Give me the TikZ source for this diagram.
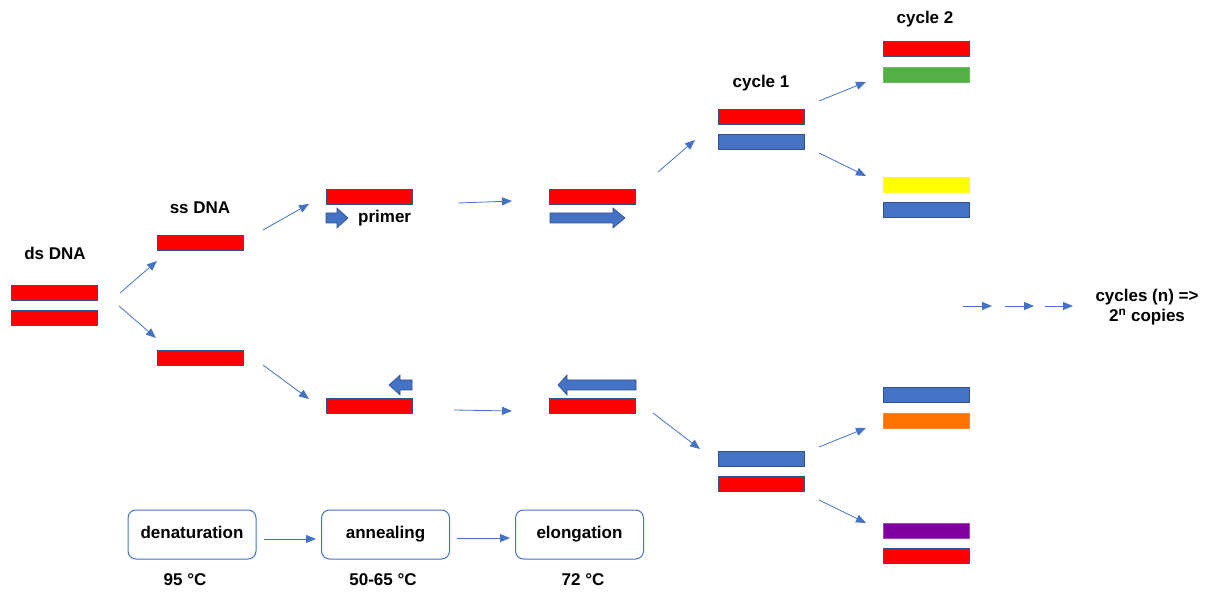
\documentclass[tikz,border=0pt]{standalone}
\usepackage{fontspec}
\setmainfont{Liberation Sans}
\usetikzlibrary{arrows.meta}
\definecolor{dred}{HTML}{FF0000}
\definecolor{oblue}{HTML}{4472C4}
\definecolor{oline}{HTML}{2F528F}
\definecolor{ogreen}{HTML}{54B046}
\definecolor{oyellow}{HTML}{FFFF00}
\definecolor{oorange}{HTML}{FF7300}
\definecolor{opurple}{HTML}{7F00A0}
\begin{document}
\begin{tikzpicture}[x=1pt,y=-1pt,
  font=\bfseries\fontsize{17}{20}\selectfont,
  strand/.style={rectangle, minimum width=86pt, minimum height=15pt, inner sep=0pt, outer sep=0pt, line width=0.8pt},
  redstrand/.style={strand, fill=dred, draw=oline},
  bluestrand/.style={strand, fill=oblue, draw=oline},
  greenstrand/.style={strand, fill=ogreen, draw=ogreen!85!white},
  yellowstrand/.style={strand, fill=oyellow, draw=oyellow!85!white},
  orangestrand/.style={strand, fill=oorange, draw=oorange!85!white},
  purplestrand/.style={strand, fill=opurple, draw=opurple!70!white},
  conn/.style={draw=oblue, line width=0.8pt, -{Triangle[length=10pt,width=8pt]}},
  stepbox/.style={draw=oblue, line width=1pt, rounded corners=8pt, minimum width=128pt, minimum height=49pt, inner sep=0pt, text height=12pt, text depth=3.5pt},
  lbl/.style={inner sep=0pt, text=black},
  blockarrow/.style={fill=oblue, draw=oline, line width=0.6pt, line join=miter}
]
\useasboundingbox (0,0) rectangle (1205,593);
\fill[white] (0,0) rectangle (1205,593);

% strands
\node[redstrand] (ds1) at (54.5,292.5) {};
\node[redstrand] (ds2) at (54.5,317.5) {};
\node[redstrand] (ss1) at (200,243) {};
\node[redstrand] (ss2) at (200,358) {};
\node[redstrand] (an1) at (369.5,196.5) {};
\node[redstrand] (an2) at (369,406) {};
\node[redstrand] (el1) at (592.5,196.5) {};
\node[redstrand] (el2) at (592,405.5) {};
\node[redstrand] (c1a) at (761,116.5) {};
\node[bluestrand] (c1b) at (761,141.5) {};
\node[bluestrand] (c1c) at (761,458.5) {};
\node[redstrand] (c1d) at (761,483.5) {};
\node[redstrand] (c2a) at (926,48.5) {};
\node[greenstrand] (c2b) at (926,74.5) {};
\node[yellowstrand] (c2c) at (926,184.5) {};
\node[bluestrand] (c2d) at (926,209.5) {};
\node[bluestrand] (c2e) at (926,394.5) {};
\node[orangestrand] (c2f) at (926,420.5) {};
\node[purplestrand] (c2g) at (926,531) {};
\node[redstrand] (c2h) at (926,556) {};

% block arrows (primers)
\filldraw[blockarrow] (326,213) -- (337,213) -- (337,208) -- (348,218) -- (337,228) -- (337,223) -- (326,223) -- cycle;
\filldraw[blockarrow] (550,213) -- (613,213) -- (613,208) -- (625,218) -- (613,228) -- (613,223) -- (550,223) -- cycle;
\filldraw[blockarrow] (412,380) -- (400,380) -- (400,375) -- (389,385) -- (400,395) -- (400,390) -- (412,390) -- cycle;
\filldraw[blockarrow] (636,380) -- (567,380) -- (567,375) -- (558,385) -- (567,395) -- (567,390) -- (636,390) -- cycle;

% labels
\node[lbl] (tds) at (55,253) {ds DNA};
\node[lbl] (tss) at (200,208) {ss DNA};
\node[lbl, anchor=west] (tpr) at (358,218) {primer};
\node[lbl] (tc1) at (761,83) {cycle 1};
\node[lbl] (tc2) at (925,19) {cycle 2};
\node[lbl, align=center] (tcy) at (1147,307) {cycles (n) =>\\2\textsuperscript{n} copies};

% step boxes
\node[stepbox] (den) at (192,534.5) {denaturation};
\node[stepbox] (ann) at (385.5,534.5) {annealing};
\node[stepbox] (elo) at (579.5,534.5) {elongation};
\node[lbl] (t95) at (185,580) {95 °C};
\node[lbl] (t50) at (383,580) {50-65 °C};
\node[lbl] (t72) at (583,580) {72 °C};

% connector end points
\coordinate (a1s) at (120,293); \coordinate (a1e) at (157,261);
\coordinate (a2s) at (119,306); \coordinate (a2e) at (156,338);
\coordinate (a3s) at (263,230); \coordinate (a3e) at (309,204);
\coordinate (a4s) at (263,365); \coordinate (a4e) at (309,399);
\coordinate (a5s) at (458,203); \coordinate (a5e) at (512,201);
\coordinate (a6s) at (454,410); \coordinate (a6e) at (512,411);
\coordinate (a7s) at (658,172); \coordinate (a7e) at (695,140);
\coordinate (a8s) at (653,413); \coordinate (a8e) at (700,449);
\coordinate (a9s) at (819,101); \coordinate (a9e) at (866,82);
\coordinate (a10s) at (819,153); \coordinate (a10e) at (866,176);
\coordinate (a11s) at (819,447); \coordinate (a11e) at (866,428);
\coordinate (a12s) at (819,500); \coordinate (a12e) at (866,523);
\coordinate (d1s) at (963,306); \coordinate (d1e) at (992,306);
\coordinate (d2s) at (1005,306); \coordinate (d2e) at (1034,306);
\coordinate (d3s) at (1045,306); \coordinate (d3e) at (1073,306);

\foreach \s/\e in {a1s/a1e,a2s/a2e,a3s/a3e,a4s/a4e,a5s/a5e,a6s/a6e,a7s/a7e,a8s/a8e,a9s/a9e,a10s/a10e,a11s/a11e,a12s/a12e,d1s/d1e,d2s/d2e,d3s/d3e}
  \draw[conn] (\s) -- (\e);

\draw[conn, shorten <=7pt, shorten >=5pt] ([yshift=-4.5pt]den.east) -- ([yshift=-4.5pt]ann.west);
\draw[conn, shorten <=7pt, shorten >=5pt] ([yshift=-3.5pt]ann.east) -- ([yshift=-3.5pt]elo.west);
\end{tikzpicture}
\end{document}
